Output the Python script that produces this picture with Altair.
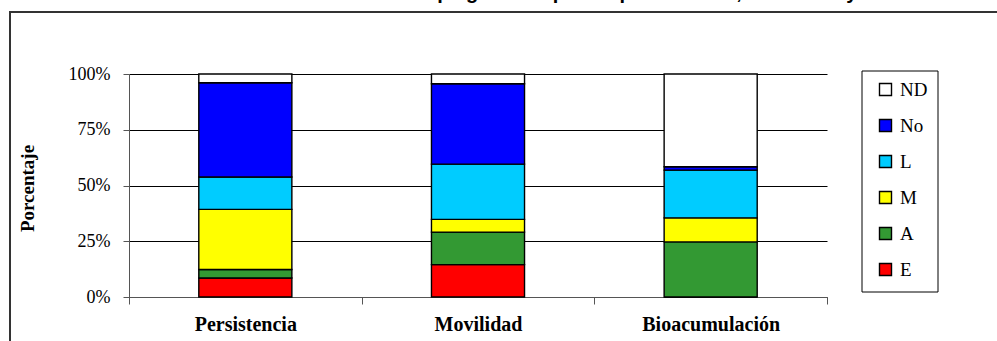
import altair as alt
import pandas as pd

# Properties evaluated and the classes used to rate each one
properties = ["Persistencia", "Movilidad", "Bioacumulación"]
classes = ["E", "A", "M", "L", "No", "ND"]          # bottom -> top of each stack
colors = ["#FF0000", "#339933", "#FFFF00", "#00CCFF", "#0000FF", "#FFFFFF"]

# Share of pesticides (%) in each class, listed in the same order as `classes`
persistencia = [8.5, 3.8, 27.0, 14.5, 42.3, 3.9]
movilidad = [14.5, 14.6, 5.7, 24.8, 36.0, 4.4]
bioacumulacion = [0.0, 24.7, 10.8, 21.4, 1.5, 41.6]

shares = {"Persistencia": persistencia, "Movilidad": movilidad, "Bioacumulación": bioacumulacion}
rows = []
for prop in properties:
    for i, (cls, val) in enumerate(zip(classes, shares[prop])):
        rows.append({"Propiedad": prop, "Clase": cls, "orden": i, "valor": val / 100.0})
df = pd.DataFrame(rows)

# Plot-area geometry (autosize none: padding places the plot area in the page)
W, H = 698, 223
LEFT, TOP = 129, 74
SERIF = "'Liberation Serif', 'Times New Roman', serif"

bars = alt.Chart(df).mark_bar(
    width=alt.RelativeBandSize(0.4), stroke="black", strokeWidth=1.4
).encode(
    x=alt.X(
        "Propiedad:N",
        sort=properties,
        scale=alt.Scale(paddingInner=0, paddingOuter=0),
        axis=alt.Axis(
            title=None, labelAngle=0, tickBand="extent", grid=False,
            domainColor="#555555", tickColor="#555555", tickSize=7,
            labelFont=SERIF, labelFontSize=20, labelFontWeight="bold",
            labelColor="black", labelPadding=10,
        ),
    ),
    y=alt.Y(
        "valor:Q",
        stack="zero",
        scale=alt.Scale(domain=[0, 1], nice=False),
        axis=alt.Axis(
            values=[0, 0.25, 0.5, 0.75, 1], format="%", title="Porcentaje",
            grid=True, gridColor="black", gridWidth=1,
            domainColor="#555555", tickColor="#555555", tickSize=6,
            labelFont=SERIF, labelFontSize=18, labelColor="black", labelPadding=13,
            titleFont=SERIF, titleFontSize=19, titleFontWeight="bold", titleColor="black",
            titleAngle=270, titleX=-102, titleY=114, titleAlign="center", titleBaseline="middle",
        ),
    ),
    color=alt.Color(
        "Clase:N",
        # legend lists the classes top -> bottom as they appear in the stacks
        scale=alt.Scale(domain=list(reversed(classes)), range=list(reversed(colors))),
        legend=alt.Legend(
            title=None, orient="none", legendX=747, legendY=6, padding=0,
            symbolType="square", symbolSize=144, symbolStrokeColor="black",
            symbolStrokeWidth=1.4, symbolOpacity=1,
            labelFont=SERIF, labelFontSize=19, labelColor="black", labelOffset=5,
            rowPadding=16,
        ),
    ),
    order=alt.Order("orden:Q", sort="ascending"),
)

# Legend box, outer chart frame and the chart title above the frame
legend_box = alt.Chart(pd.DataFrame({"k": [0]})).mark_rect(
    fill=None, stroke="black", strokeWidth=1
).encode(
    x=alt.value(862 - LEFT), x2=alt.value(938 - LEFT),
    y=alt.value(71 - TOP), y2=alt.value(292 - TOP),
)

frame = alt.Chart(pd.DataFrame({"k": [0]})).mark_rect(
    fill=None, stroke="#333333", strokeWidth=2
).encode(
    x=alt.value(10 - LEFT), x2=alt.value(1010 - LEFT),
    y=alt.value(12 - TOP), y2=alt.value(360 - TOP),
)

title = alt.Chart(pd.DataFrame({"t": ["Clasificación de los plaguicidas por su persistencia, movilidad y bioacumulación"]})).mark_text(
    font="Liberation Sans", fontSize=20, fontWeight="bold", color="black",
    align="center", baseline="alphabetic",
).encode(
    text="t:N", x=alt.value(630 - LEFT), y=alt.value(-1 - TOP),
)

chart = alt.layer(frame, bars, legend_box, title).properties(
    width=W, height=H,
    padding={"left": LEFT, "top": TOP, "right": 997 - LEFT - W, "bottom": 341 - TOP - H},
    autosize=alt.AutoSizeParams(type="none"),
    background="white",
).configure_view(stroke=None)

chart.save("out.html", embed_options={"renderer": "svg", "actions": False})
